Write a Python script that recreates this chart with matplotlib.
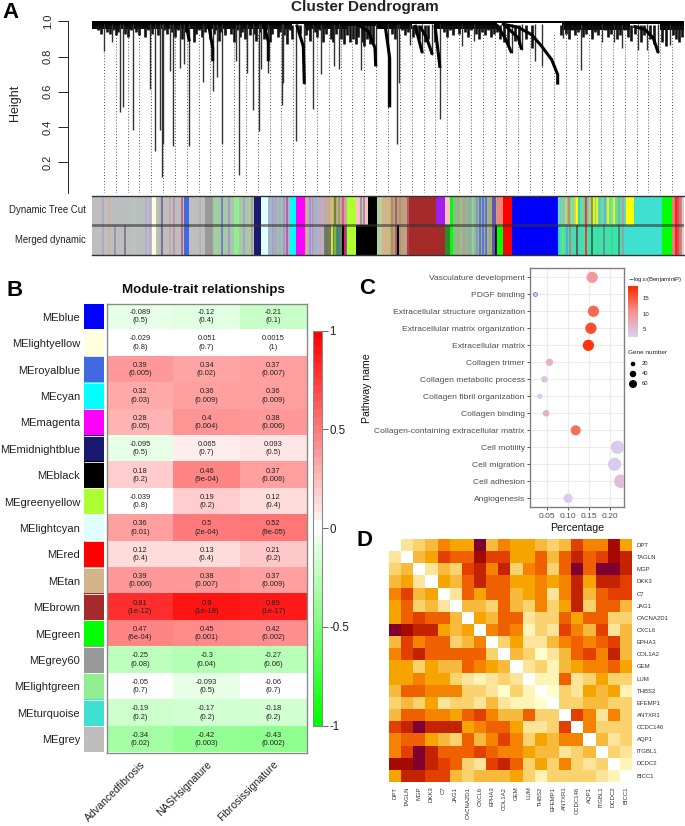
import numpy as np
import matplotlib
matplotlib.use("Agg")
import matplotlib.pyplot as plt
from matplotlib.colors import LinearSegmentedColormap, ListedColormap

plt.rcParams["font.family"] = ["Liberation Sans", "DejaVu Sans"]
W, H = 685, 826

# ---- panel A, dendrogram (leaf order runs 0-592)
stem_leaf = [12.3, 19.7, 27.7, 31.3, 40.7, 58, 63.3, 67.7, 69.7, 71.3, 78.3, 81, 88, 92.3, 97.3, 111.3, 120.7, 125.3,
             130, 143.7, 147, 154.7, 160.7, 166.7, 169, 176.3, 189.7, 190.7, 204, 212.3, 220.7, 229, 242.3, 247,
             268.7, 283.7, 296.3, 305, 307, 318, 330.3, 340, 348, 370, 381.7, 419.7, 429.7, 443, 449.7, 471.3, 488.7,
             510, 522, 530.3, 546.3, 554.7, 566.3, 578]
stem_height = [.833, .883, .483, .511, .384, .618, .261, .384, .114, .305, .716, .29, .735, .758, .29, .655, .606, .682,
               .305, .773, .125, .706, .494, .375, .731, .706, .523, .65, .322, .644, .502, .701, .744, .731,
               .725, .744, .511, .304, .65, .867, .82, .81, .443, .858, .886, .82, .839, .773, .744, .905, .725,
               .885, .885, .849, .839, .839, .82, .867]
fringe_leaf = [3, 6, 9, 15, 18, 21, 24, 26, 30, 33, 36, 39, 44, 47, 50, 53, 56, 60, 64, 66, 72, 75, 77, 80, 83, 86, 90,
               93, 96, 99, 102, 104, 107, 110, 113, 115, 118, 122, 124, 127, 129, 133, 136, 139, 142, 145, 148, 150,
               153, 156, 158, 162, 164, 168, 172, 174, 178, 180, 183, 186, 188, 192, 195, 198, 200, 208, 214, 216, 218,
               223, 225, 228, 231, 234, 236, 239, 241, 244, 249, 252, 255, 258, 261, 264, 266, 270, 272, 275, 278, 281,
               300, 303, 310, 313, 316, 321, 324, 327, 333, 336, 343, 352, 355, 358, 361, 364, 367, 373, 376, 379, 384,
               387, 390, 393, 396, 399, 402, 405, 408, 412, 416, 423, 427, 434, 440, 469, 474, 477, 480, 483, 486, 491,
               494, 497, 500, 503, 506, 513, 516, 519, 525, 528, 533, 536, 539, 543, 549, 552, 558, 562, 570, 574, 581,
               584, 587, 590]
fringe_height = [.96, .95, .93, .94, .93, .95, .92, .94, .96, .93, .91, .95, .94, .92, .96, .91, .95, .93, .96, .92, .95,
                 .93, .96, .94, .91, .95, .90, .94, .92, .96, .88, .93, .95, .91, .94, .96, .90, .93, .95, .89, .94, .92,
                 .96, .93, .88, .95, .91, .94, .90, .96, .92, .93, .89, .94, .90, .95, .88, .93, .96, .91, .94, .92, .87,
                 .95, .90, .93, .92, .95, .89, .94, .91, .95, .88, .93, .96, .90, .88, .93, .90, .87, .92, .88, .90, .87,
                 .91, .88, .86, .90, .87, .88, .93, .90, .95, .92, .94, .91, .93, .90, .88, .90, .88, .94, .91, .95, .92,
                 .96, .93, .94, .91, .95, .93, .90, .94, .92, .95, .91, .93, .94, .90, .88, .86, .89, .87, .90, .85, .92,
                 .93, .90, .95, .92, .94, .91, .93, .96, .90, .94, .92, .95, .91, .93, .90, .92, .95, .91, .89, .93, .88,
                 .92, .90, .87, .88, .86, .92, .90, .88, .91]
curtain_leaf = [[409.7, 426.3, 439.7, 449.7, 459.7, 465.7, 465.7],
                [541.3, 553, 561.3, 566.3],
                [404.7, 413, 419.7],
                [413, 426.3, 429.7],
                [328, 334.7, 340.3],
                [323, 330.3],
                [343, 348],
                [293, 297.7, 297.7],
                [204.7, 211.3, 212.3],
                [171.3, 176.3, 176.3],
                [264.7, 276.3, 283, 283.7],
                [116.3, 120.7, 120.7],
                [94, 97.3]]
curtain_height = [[.985, .966, .924, .858, .782, .697, .64],
                  [.972, .953, .905, .82],
                  [.981, .905, .82],
                  [.977, .905, .839],
                  [.972, .905, .811],
                  [.98, .82],
                  [.977, .735],
                  [.981, .792, .511],
                  [.981, .858, .644],
                  [.991, .886, .773],
                  [.985, .943, .849, .744],
                  [.991, .849, .773],
                  [.991, .886]]
# lower edge of the solid black band along the top
band_edge = [0, 200, 212, 256, 285, 320, 342, 405, 470, 538, 568, 592]
band_low = [.958, .985, .958, .975, .958, .985, .958, .992, .95, .985, .95]
guide_leaf = np.arange(1, 50) * 592 / 50

# ---- panel A, colour strips: blocks as start / width / colour lists
block_start = [0, 60, 92.3, 113, 121, 142.3, 162, 169, 176, 198, 204, 214, 255, 285, 290, 298, 317.3, 361, 420]
block_width = [60, 4, 4.7, 8, 41, 5, 7, 7, 22, 6, 10, 18, 9, 5, 8, 19, 27, 44, 46]
block_color = ["#BEBEBE", "#FFFFE0", "#4169E1", "#999999", "#A8C8A8", "#90EE90", "#191970", "#E0FFFF", "#A8B8C8",
               "#00FFFF", "#FF00FF", "#B8B0C8", "#ADFF2F", "#B8D0A0", "#D2B48C", "#B8A080", "#A52A2A", "#90B8A0",
               "#0000FF"]
top_start = [232, 264, 276, 344, 353, 358, 405, 411, 466, 534, 542, 570, 580, 590]
top_width = [23, 12, 9, 9, 5, 3, 6, 9, 68, 8, 28, 10, 10, 2]
top_color = ["#C0B098", "#FFC0CB", "#000000", "#A020F0", "#FFC0CB", "#00FF00", "#FA8072", "#FF0000", "#5EDCB8",
             "#FFFF00", "#40E0D0", "#00FF00", "#E88080", "#D0D0D0"]
bot_start = [232, 264, 315, 344, 353, 358, 405, 411, 466, 531, 570, 580, 590]
bot_width = [23, 21, 2.3, 9, 5, 3, 6, 9, 65, 39, 10, 10, 2]
bot_color = ["#708050", "#000000", "#A52A2A", "#A52A2A", "#2E8B2E", "#00FF00", "#00FF00", "#FF0000", "#40E0B0",
             "#40E0D0", "#00FF00", "#E88080", "#D0D0D0"]

stripe_leaf = [10.7, 17.3, 24, 36, 42, 48, 54, 58, 68, 70.3, 78, 81.7, 90.3, 108, 124, 130, 137, 152,
               156.7, 160.3,
               178, 181, 184, 188, 192, 195, 214, 218, 221, 224, 228,
               298, 300, 304, 308, 313, 316,
               363, 366, 369, 372, 375, 378, 381, 385, 388, 391, 394, 398, 401, 403]
stripe_color = ["#B0A0C8", "#D8A8A0", "#A8C8C8", "#A8C8C0", "#B8C8D0", "#A8C8C0", "#B0A8D8", "#B0A8D8", "#A0C890",
                "#7050A0", "#D0A0A0", "#B090B0", "#C05070", "#B0B0C0", "#90E090", "#6070C0", "#A090D0", "#A0A0D0",
                "#B0C8A0", "#B090A0",
                "#A0B0D0", "#90A0D0", "#C0A090", "#80C0B0", "#B090B0", "#C040A0",
                "#E0C060", "#9090E0", "#C090B0", "#80C0D0", "#D0A0B0",
                "#C0C050", "#B08080", "#A05050", "#B09070", "#D0A070", "#C04070",
                "#70D070", "#C0A070", "#A0C080", "#D09080", "#80C090", "#A0A0A0", "#90E090", "#8090C0", "#6A5ACD",
                "#4169E1", "#6A5ACD", "#D0A040", "#4040C0", "#7030A0"]
top_stripe_leaf = [233, 237, 240, 243, 247, 251, 269, 272, 467, 470, 474, 477, 480, 483, 485, 487, 490, 494, 496, 498,
                   500, 502, 505, 508, 510, 513, 516, 520, 522, 525, 527, 531, 583.5, 586, 588]
top_stripe_color = ["#C8A8A0", "#C8A8A0", "#E0C050", "#708040", "#A0A060", "#E050A0", "#999999", "#999999",
                    "#6FD8C8", "#90C8A0", "#E0C070", "#C09060", "#90E090", "#D8D050", "#FFFF00", "#40D0C0", "#70E080",
                    "#FF3030", "#50D8C0", "#E0C080", "#6AA060", "#F0F000", "#E8F020", "#40D8C0", "#80D0A0", "#60B8D0",
                    "#F0F000", "#80E090", "#E0F020", "#60E0A0", "#70C090", "#B0A0A0", "#FF2020", "#E84040", "#C08080"]
bot_stripe_leaf = [23, 33, 235, 240, 243, 246, 251, 253, 306, 403.5, 467, 471, 475, 478, 480, 485, 494, 500, 506, 512,
                   520, 527, 531, 583.5, 586, 588]
bot_stripe_color = ["#999999", "#808080", "#707070", "#E0E040", "#70C040", "#2090A0", "#000000", "#D02090", "#000000",
                    "#101010", "#30D8C0", "#70E080", "#50B0D0", "#A09080", "#60D0B0", "#606060", "#FF3030", "#208050",
                    "#40E090", "#50A080", "#30E080", "#409070", "#A0A0A0", "#FF2020", "#E84040", "#C08080"]

# ---- panel B, module-trait table
me_names = ["MEblue", "MElightyellow", "MEroyalblue", "MEcyan", "MEmagenta", "MEmidnightblue", "MEblack",
            "MEgreenyellow", "MElightcyan", "MEred", "MEtan", "MEbrown", "MEgreen", "MEgrey60", "MElightgreen",
            "MEturquoise", "MEgrey"]
me_colors = ["#0000FF", "#FFFFE0", "#4169E1", "#00FFFF", "#FF00FF", "#191970", "#000000", "#ADFF2F", "#E0FFFF",
             "#FF0000", "#D2B48C", "#A52A2A", "#00FF00", "#999999", "#90EE90", "#40E0D0", "#BEBEBE"]
trait_names = ["Advancedfibrosis", "NASHsignature", "Fibrosissignature"]
corr_fibrosis = [-0.089, -0.029, 0.39, 0.32, 0.28, -0.095, 0.18, -0.039, 0.36, 0.12, 0.39, 0.81, 0.47, -0.25, -0.05, -0.19, -0.34]
corr_nash = [-0.12, 0.051, 0.34, 0.36, 0.4, 0.065, 0.46, 0.19, 0.5, 0.13, 0.38, 0.9, 0.45, -0.3, -0.093, -0.17, -0.42]
corr_signature = [-0.21, 0.0015, 0.37, 0.36, 0.38, 0.093, 0.37, 0.12, 0.52, 0.21, 0.37, 0.89, 0.42, -0.27, -0.06, -0.18, -0.43]
p_fibrosis = ["0.5", "0.8", "0.005", "0.03", "0.05", "0.5", "0.2", "0.8", "0.01", "0.4", "0.006", "1e-12", "6e-04", "0.08", "0.7", "0.2", "0.02"]
p_nash = ["0.4", "0.7", "0.02", "0.009", "0.004", "0.7", "9e-04", "0.2", "2e-04", "0.4", "0.007", "1e-18", "0.001", "0.04", "0.5", "0.2", "0.003"]
p_signature = ["0.1", "1", "0.007", "0.009", "0.006", "0.5", "0.008", "0.4", "9e-05", "0.2", "0.009", "1e-17", "0.002", "0.06", "0.7", "0.2", "0.002"]

# ---- panel C, enrichment dots
pathways = ["Vasculature development", "PDGF binding", "Extracellular structure organization",
            "Extracellular matrix organization", "Extracellular matrix", "Collagen trimer",
            "Collagen metabolic process", "Collagen fibril organization", "Collagen binding",
            "Collagen-containing extracellular matrix", "Cell motility", "Cell migration", "Cell adhesion",
            "Angiogenesis"]
percentage = [.157, .021, .16, .154, .148, .056, .044, .033, .048, .118, .217, .21, .225, .10]
gene_number = [43, 5, 43, 43, 43, 18, 15, 9.5, 15, 34, 60, 59, 63, 29]
log_p = [9.5, 2.5, 14, 16, 18, 6, 4, 3, 6.5, 13.5, 3.2, 3, 5, 3]
legend_genes = [20, 40, 60]

# ---- panel D, gene correlation levels (diagonal is left blank)
genes = ["DPT", "TAGLN", "MGP", "DKK3", "C7", "JAG1", "CACNA2D1", "CXCL6", "EPHA3", "COL1A2", "GEM", "LUM", "THBS2",
         "EFEMP1", "ANTXR1", "CCDC146", "AQP1", "ITGBL1", "DCDC2", "BICC1"]
level_colors = ["#FFFFCC", "#FFF4B5", "#FCE49A", "#FAD26E", "#F8BA3C", "#F6A500", "#F58300", "#EE6000", "#E33F00",
                "#C42300", "#A40A00", "#7F0030"]
x = np.nan
gene_levels = [
    [x, 2, 3, 4, 6, 5, 5, 11, 4, 6, 5, 5, 4, 3, 4, 8, 6, 6, 10, 5],
    [2, x, 4, 5, 8, 7, 7, 10, 8, 8, 5, 5, 7, 4, 7, 9, 7, 8, 10, 9],
    [3, 4, x, 2, 4, 3, 8, 9, 6, 9, 3, 6, 7, 3, 7, 11, 7, 11, 11, 9],
    [4, 5, 2, x, 5, 4, 7, 9, 7, 7, 5, 5, 6, 5, 6, 9, 5, 9, 9, 8],
    [6, 8, 4, 5, x, 2, 7, 5, 7, 7, 4, 5, 6, 2, 6, 9, 4, 7, 8, 8],
    [5, 7, 3, 4, 2, x, 4, 4, 3, 7, 4, 3, 6, 3, 5, 9, 3, 7, 7, 4],
    [5, 7, 8, 7, 7, 4, x, 5, 4, 7, 7, 2, 3, 3, 7, 5, 7, 7, 3, 3],
    [11, 10, 9, 9, 5, 4, 5, x, 6, 7, 6, 1, 3, 2, 8, 6, 4, 8, 2, 4],
    [4, 8, 6, 7, 7, 3, 4, 6, x, 3, 5, 2, 2, 4, 6, 7, 6, 7, 8, 4],
    [6, 8, 9, 7, 7, 7, 7, 7, 3, x, 4, 3, 0, 2, 4, 7, 8, 6, 9, 4],
    [5, 5, 3, 5, 4, 4, 7, 6, 5, 4, x, 2, 3, 1, 4, 5, 6, 6, 7, 5],
    [5, 5, 6, 5, 5, 3, 2, 1, 2, 3, 2, x, 1, 1, 7, 2, 3, 5, 3, 3],
    [4, 7, 7, 6, 6, 6, 3, 3, 2, 0, 3, 1, x, 0, 3, 2, 5, 4, 5, 1],
    [3, 4, 3, 5, 2, 3, 3, 2, 4, 2, 1, 1, 0, x, 3, 3, 4, 4, 3, 3],
    [4, 7, 7, 6, 6, 5, 7, 8, 6, 4, 4, 7, 3, 3, x, 8, 6, 2, 6, 3],
    [8, 9, 11, 9, 9, 9, 5, 6, 7, 7, 5, 2, 2, 3, 8, x, 6, 3, 3, 3],
    [6, 7, 7, 5, 4, 3, 7, 4, 6, 8, 6, 3, 5, 4, 6, 6, x, 4, 2, 3],
    [6, 8, 11, 9, 7, 7, 7, 8, 7, 6, 6, 5, 4, 4, 2, 3, 4, x, 3, 2],
    [10, 10, 11, 9, 8, 7, 3, 2, 8, 9, 7, 3, 5, 3, 6, 3, 2, 3, x, 1],
    [5, 9, 9, 8, 8, 4, 3, 4, 4, 4, 5, 3, 1, 3, 3, 3, 3, 2, 1, x],
]

fig = plt.figure(figsize=(W / 100, H / 100), dpi=100)


def px_axes(x0, y0, x1, y1):
    return fig.add_axes([x0 / W, 1 - y1 / H, (x1 - x0) / W, (y1 - y0) / H])


def px_text(px, py, s, **kw):
    return fig.text(px / W, 1 - py / H, s, **kw)


for letter, lx, ly in [("A", 2, 13), ("B", 7, 290), ("C", 359, 288), ("D", 357, 541)]:
    px_text(lx, ly, letter, fontsize=16, fontweight="bold", va="center", ha="left", color="black")

# Panel A - dendrogram
ax = px_axes(92, 21.3, 684, 193)
ax.set_xlim(0, 592)
ax.set_ylim(1 - 171.7 / 176, 1.0)
ax.vlines(guide_leaf, ax.get_ylim()[0], .93, color="#555555", lw=0.7, linestyles=(0, (1, 2)))
ax.fill_between(band_edge, band_low + [band_low[-1]], 1.0, step="post", color="black", lw=0)
ax.vlines(fringe_leaf, fringe_height, .98, color="#111111", lw=1.9)
ax.vlines(stem_leaf, stem_height, .985, color="#333333", lw=1.0)
for cx, cy in zip(curtain_leaf, curtain_height):
    ax.plot(cx, cy, color="black", lw=2.2, solid_capstyle="butt")
for s in ["top", "right", "bottom"]:
    ax.spines[s].set_visible(False)
ax.spines["left"].set_position(("outward", 17))
ax.spines["left"].set_linewidth(0.6)
ax.set_xticks([])
ax.set_yticks([0.2, 0.4, 0.6, 0.8, 1.0])
ax.tick_params(axis="y", length=7, width=0.6, labelsize=8, pad=4, labelcolor="#222222")
plt.setp(ax.get_yticklabels(), rotation=90, va="center")
px_text(15, 103, "Height", rotation=90, fontsize=9, ha="center", va="center", color="#222222")
px_text(365, 7, "Cluster Dendrogram", fontsize=11, fontweight="bold", ha="center", va="center", color="#222222")

# Panel A - colour strips
ax = px_axes(92, 195.5, 684, 254.5)
ax.set_xlim(0, 592)
ax.set_ylim(0, 2)
ax.barh([0.5, 1.5], 592, left=0, height=1, color="#BEBEBE", lw=0)
ax.barh(1.5, block_width, left=block_start, height=1, color=block_color, lw=0)
ax.barh(0.5, block_width, left=block_start, height=1, color=block_color, lw=0)
ax.barh(1.5, top_width, left=top_start, height=1, color=top_color, lw=0)
ax.barh(0.5, bot_width, left=bot_start, height=1, color=bot_color, lw=0)
ax.vlines(stripe_leaf, 0, 2, colors=stripe_color, lw=1.1)
ax.vlines(top_stripe_leaf, 1, 2, colors=top_stripe_color, lw=1.6)
ax.vlines(bot_stripe_leaf, 0, 1, colors=bot_stripe_color, lw=1.4)
ax.axhline(1, color="#333333", lw=2, alpha=0.6)
for s in ["left", "right"]:
    ax.spines[s].set_visible(False)
for s in ["top", "bottom"]:
    ax.spines[s].set_linewidth(1.0)
    ax.spines[s].set_color("#333333")
ax.set_xticks([])
ax.set_yticks([])
px_text(86, 210, "Dynamic Tree Cut", fontsize=6.9, ha="right", va="center", color="#222222")
px_text(86, 240, "Merged dynamic", fontsize=6.9, ha="right", va="center", color="#222222")

# Panel B - module-trait heatmap
gwr = LinearSegmentedColormap.from_list(
    "gwr", [(0, "#00FF00"), (0.4725, "#F0FFF0"), (0.4726, "#FFFFFF"), (0.5274, "#FFFFFF"), (0.5275, "#FFF0F0"), (1, "#FF0000")], N=100)
corr = np.array([corr_fibrosis, corr_nash, corr_signature]).T
pvals = [p_fibrosis, p_nash, p_signature]
ax = px_axes(106.7, 303.5, 306.7, 752.5)
ax.imshow(corr, cmap=gwr, vmin=-1, vmax=1, aspect="auto", interpolation="nearest")
for j in range(3):
    for i in range(len(me_names)):
        ax.text(j, i, f"{corr[i, j]:g}\n({pvals[j][i]})", fontsize=5.4, ha="center", va="center", linespacing=1.25,
                color="#222222")
ax.set_yticks([])
ax.set_xticks(range(3))
ax.set_xticklabels(trait_names, rotation=45, ha="right", rotation_mode="anchor", fontsize=7.6, color="#222222")
ax.tick_params(axis="x", length=0, pad=5)
for s in ax.spines.values():
    s.set_color("#8A8A8A")
    s.set_linewidth(1.0)

ax = px_axes(84.3, 303.5, 104, 752.5)
ax.imshow(np.arange(len(me_names))[:, None], cmap=ListedColormap(me_colors), aspect="auto", interpolation="nearest")
ax.hlines(np.arange(len(me_names) - 1) + 0.5, -0.5, 0.5, color="white", lw=0.6)
ax.set_xticks([])
ax.set_yticks(range(len(me_names)))
ax.set_yticklabels(me_names, fontsize=8, color="#222222")
ax.tick_params(axis="y", length=0, pad=3)
for s in ax.spines.values():
    s.set_visible(False)
px_text(203, 290.5, "Module-trait relationships", fontsize=9.6, fontweight="bold", ha="center", va="center", color="#111111")

ax = px_axes(313, 330.7, 322, 725.7)
ax.imshow(np.linspace(1, -1, 50)[:, None], cmap=gwr, vmin=-1, vmax=1, aspect="auto", extent=[0, 1, -1, 1])
ax.set_xticks([])
ax.yaxis.tick_right()
ax.set_yticks([-1, -0.5, 0, 0.5, 1])
ax.set_yticklabels(["-1", "-0.5", "0", "0.5", "1"], fontsize=8.3, color="#222222")
ax.tick_params(axis="y", length=4, width=0.7, color="#666666", pad=1.5)
for s in ax.spines.values():
    s.set_color("#8A8A8A")

# Panel C - dots
lavender_red = LinearSegmentedColormap.from_list("lr", ["#D8D0F5", "#F59090", "#FF2A00"])
ax = px_axes(530.3, 268.3, 624.3, 507.3)
ax.set_axisbelow(True)
ax.grid(color="#EBEBEB", lw=0.8)
rows = np.arange(len(pathways))
ax.scatter(percentage, rows, s=[(1.72 * np.sqrt(g) * 0.72) ** 2 for g in gene_number], c=log_p, cmap=lavender_red,
           vmin=2.4, vmax=18.9, lw=0, zorder=3)
ax.scatter(percentage[1], rows[1], s=(1.72 * np.sqrt(gene_number[1]) * 0.72) ** 2, facecolor="#D8D0F5",
           edgecolor="#5A6A9A", lw=0.5, zorder=4)
ax.set_xlim(0.0106, 0.233)
ax.set_ylim(len(pathways) - 0.5 + 0.03, -0.5 - 0.03)
ax.set_yticks(rows)
ax.set_yticklabels(pathways, fontsize=6.1, color="#4D4D4D")
ax.set_xticks([0.05, 0.10, 0.15, 0.20])
ax.set_xticklabels(["0.05", "0.10", "0.15", "0.20"], fontsize=6.1, color="#4D4D4D")
ax.tick_params(length=2.5, width=0.6, color="#333333", pad=1.5)
for s in ax.spines.values():
    s.set_color("#7F7F7F")
    s.set_linewidth(1.0)
px_text(367, 388, "Pathway name", rotation=90, fontsize=7.6, ha="center", va="center", color="#111111")
px_text(577, 528, "Percentage", fontsize=7.6, ha="center", va="center", color="#111111")

# Panel C - legends
ax = px_axes(628.3, 286, 638.3, 337)
ax.imshow(np.linspace(18.9, 2.4, 60)[:, None], cmap=lavender_red, vmin=2.4, vmax=18.9, aspect="auto", extent=[0, 1, 2.4, 18.9])
ax.set_xticks([])
ax.yaxis.tick_right()
ax.set_yticks([5, 10, 15])
ax.set_yticklabels(["5", "10", "15"], fontsize=4.3, color="#222222")
ax.tick_params(axis="y", length=0, pad=3)
for s in ax.spines.values():
    s.set_visible(False)
px_text(628, 279, r"$-$log$_{10}$(BenjaminiP)", fontsize=4.3, ha="left", va="center", color="#222222",
        math_fontfamily="dejavusans")
px_text(628, 353, "Gene number", fontsize=4.6, ha="left", va="center", color="#222222")
ax = px_axes(626, 359, 660, 389)
ax.set_xlim(0, 34)
ax.set_ylim(30, 0)
ax.scatter([7] * 3, [5, 15, 25], s=[(1.03 * np.sqrt(g) * 0.72) ** 2 for g in legend_genes], color="black", lw=0)
for g, ty in zip(legend_genes, [5, 15, 25]):
    ax.text(16, ty, str(g), fontsize=4.2, va="center", ha="left", color="#222222")
ax.axis("off")

# Panel D - gene heatmap
ax = px_axes(389, 539, 631.7, 781.7)
ax.imshow(np.array(gene_levels), cmap=ListedColormap(level_colors), vmin=-0.5, vmax=11.5, aspect="auto", interpolation="nearest")
ax.set_xticks(range(len(genes)))
ax.set_xticklabels(genes, rotation=90, fontsize=4.3, color="#333333")
ax.yaxis.tick_right()
ax.set_yticks(range(len(genes)))
ax.set_yticklabels(genes, fontsize=4.3, color="#333333")
ax.tick_params(length=0, pad=3.5)
for s in ax.spines.values():
    s.set_visible(False)

fig.savefig("out.png", dpi=100)
